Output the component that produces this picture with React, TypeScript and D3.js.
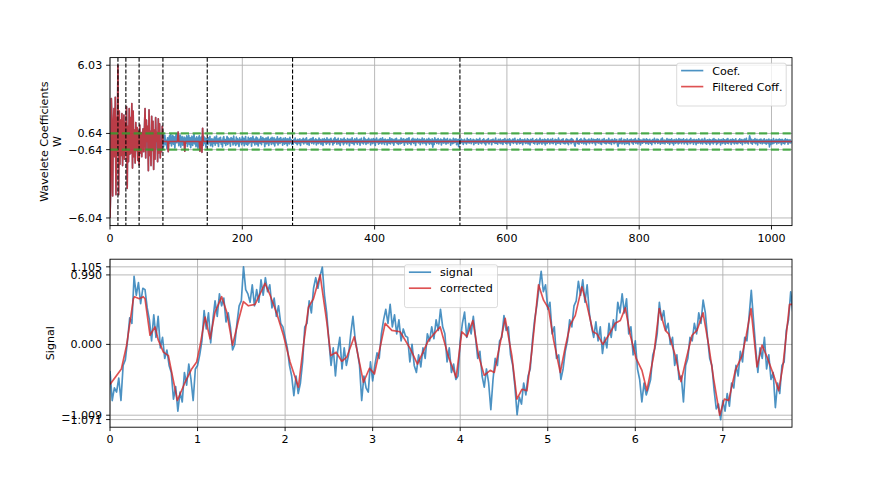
import React from "react";
import * as d3 from "d3";

// ---------------- Wavelet coefficients (top panel) ----------------
const cA7 = [-6.04, -3.8, 3.4, 1.6, -4.3, 0.9, 2.6, -1.2, 3.5, -4.2, 1.9, -0.9];
const cD7 = [6.03, -4.2, 2.4, -1.8, 1.7, -1.1, 2.2, -1.9, 0.8, 2.1, -1.4, 1.5];
const cD6 = [-0.8, 2.75, -3.7, 1.2, -1.6, 2.6, -1.0, 1.9, -0.9, 3.0, -2.1, 2.4, -1.2, 0.9, -1.7, 1.5, -0.7, 1.1, -1.5, 0.8];
const cD5 = [-1.85, 1.3, -0.9, 0.7, -1.2, 0.5, 1.0, -0.8, 0.9, 2.6, -1.3, 1.7, -0.6, 1.2, -2.3, 2.5, -1.1, 0.8, -1.9, 2.0,
  -0.7, 1.6, -2.2, 0.9, -1.4, 1.9, -0.5, 0.7, -1.6, 1.8, -0.9, 1.4, -1.3, 0.6, -0.8, 1.2];
const cD4 = [.35, -.42, .18, .5, -.25, .1, -.55, .3, -.8, .22, .45, -.15, .55, -.35, .12, .48, -.2, .38, -.5, .25,
  .58, -.1, .3, .75, -.32, .15, .52, -.45, .2, .4, -.28, .05, .35, -.77, .28, -.12, .46, -.38, .1, .5,
  -.22, .32, -.48, .18, .42, -.3, .08, .55, -.18, .25, -.4, .38, .12, -.52, .3, .45, -.77, .2, .35, -.85,
  1.05, -.3, .4, -.15, .28, -.45, .22];
const cD3 = [.12, -.25, .3, -.08, .41, -.33, .05, .22, -.4, .18, -.12, .35, -.28, .09, .44, -.15, .2, -.38, .27, -.05,
  .33, -.2, .1, -.42, .25, .38, -.12, .15, -.3, .06, .4, -.22, .28, -.1, .19, -.36, .32, -.02, .24, -.27,
  .43, -.14, .08, -.31, .36, -.18, .21, .02, -.39, .29, -.07, .16, -.25, .37, -.11, .26, -.33, .13, .4, -.2,
  .07, -.29, .34, -.16, .23, -.04, .3, -.37, .14, .41, -.09, .2, -.26, .1, .35, -.21, .27, -.35, .04, .18,
  -.13, .39, -.24, .11, .31, -.06, .22, -.4, .17, .28, -.19, .06, .36, -.3, .15, -.08, .25, -.23, .33, .03,
  -.17, .29, -.34, .12, .2, -.1, .38, -.27, .09, .24, -.15, .32, -.05, .16, -.28, .26, .07, -.21, .3, -.12,
  .19, -.33, .23, .05, -.18, .34, -.09, .14, -.24];
const cD2 = [.08, -.2, .15, -.05, .28, -.12, .1, -.25, .18, .02, -.15, .22, -.3, .09, .14, -.08, .26, -.18, .04, .2,
  -.1, .3, -.22, .06, .12, -.28, .17, -.03, .24, -.14, .08, .32, -.19, .11, -.06, .21, -.26, .13, .01, -.16,
  .27, -.09, .16, -.23, .05, .19, -.31, .1, .23, -.07, .14, -.2, .29, -.11, .03, .18, -.24, .12, .25, -.04,
  .07, -.27, .2, -.13, .31, -.02, .15, -.21, .09, .26, -.17, .05, -.3, .22, .11, -.08, .17, -.25, .28, -.1,
  .13, .02, -.19, .24, -.06, .16, -.33, .19, .07, -.12, .3, -.15, .1, -.24, .21, .04, -.09, .27, -.2, .12,
  -.05, .18, -.28, .14, .25, -.11, .06, -.18, .33, -.07, .2, -.22, .09, .15, -.14, .26, -.03, .11, -.27, .19,
  .05, -.16, .23, -.09, .17, -.3, .12, .28, -.06, .1, -.21, .18, -.12, .24, .03, -.19, .29, -.08, .14, -.23,
  .2, -.04, .11, -.26, .16, .07, -.14, .3, -.18, .09, .22, -.1, .15, -.29, .06, .19, -.07, .25, -.15, .1,
  -.22, .13, .04, -.17, .27, -.12, .18, -.05, .21, -.28, .08, .16, -.09, .23, -.2, .12, .3, -.13, .02, -.24,
  .17, -.06, .26, -.15, .09, .2, -.31, .14, -.02, .24, -.11, .07, .18, -.25, .13, -.08, .28, -.16, .05, .21,
  -.13, .1, -.27, .19, .06, -.1, .25, -.2, .15, .03, -.18, .22, -.45, .12, -.23, .29, -.04, .16, -.14, .08,
  .24, -.19, .11, -.06, .2, -.26, .14, .05, -.12, .27, -.09, .17, -.21, .1, .23, -.15, .08, -.03, .19, -.28,
  .12, .06, -.17, .25, -.1, .18, -.05, .21, -.24, .09, .15, -.4, .2];
const cD1 = [.1, -.15, .2, -.05, .12, -.22, .08, .18, -.1, .03, -.19, .25, -.07, .14, -.12, .06, .21, -.16, .09, -.03,
  .17, -.24, .11, .02, -.13, .19, -.08, .15, -.2, .07, .26, -.11, .04, -.17, .13, -.05, .22, -.14, .1, -.27,
  .05, .16, -.09, .23, -.18, .08, -.02, .14, -.25, .12, .19, -.06, .1, -.15, .28, -.12, .03, -.21, .17, .07,
  -.1, .2, -.16, .06, .13, -.23, .15, -.04, .24, -.13, .09, -.19, .18, .01, -.11, .22, -.28, .12, .05, -.08,
  .19, -.14, .1, .26, -.09, .03, -.2, .16, -.06, .12, -.17, .23, -.12, .08, .15, -.24, .11, -.03, .2, -.15,
  .07, -.1, .21, -.19, .13, .04, -.26, .17, -.07, .1, .24, -.13, .06, -.18, .14, -.02, .19, -.22, .09, .12,
  -.16, .25, -.08, .11, -.21, .16, .02, -.12, .2, -.27, .13, .07, -.15, .22, -.05, .1, -.19, .17, .03, -.11,
  .23, -.17, .08, -.04, .18, -.24, .14, .05, -.13, .27, -.1, .12, -.2, .06, .16, -.09, .21, -.14, .02, -.18,
  .11, .2, -.12, .15, -.25, .09, -.03, .17, -.16, .24, -.07, .13, .04, -.21, -.36, -.1, .08, .26, -.15, .05,
  -.2, .14, -.06, .22, -.13, .1, .03, -.18, .25, -.11, .16, -.24, .07, .12, -.08, .2, -.17, .09, -.02, .23,
  -.14, .06, .18, -.1, .13, -.26, .15, -.05, .21, -.12, .08, .19, -.16, .04, -.22, .17, .1, -.08, .24, -.13,
  .09, -.19, .14, .02, -.11, .26, -.15, .07, .12, -.23, .18, -.04, .1, -.17, .22, -.09, .05, .16, -.2, -.38,
  -.07, .2, -.14, .08, .25, -.18, .03, -.1, .17, -.22, .13, .06, -.16, .21, -.12, .09, -.25, .15, .01, .19,
  -.11, .12, -.2, .16, -.04, .23, -.15, .1, .07, -.19, .24, -.08, .14, -.27, .11, .05, -.13, .2, -.06, .17,
  .03, -.16, .22, -.1, .13, -.21, .08, .18, -.12, .06, -.24, .15, .1, -.07, .25, -.17, .09, -.03, .2, -.14,
  .16, -.08, .04, -.2, .19, -.11, .27, -.15, .07, .12, -.18, .1, -.05, .23, -.13, .02, .17, -.22, .14, -.09,
  .21, -.12, .09, -.26, .15, .05, -.14, .2, -.07, .11, -.19, .24, -.1, .06, .18, -.16, .13, -.04, .22, -.18,
  .08, .14, -.11, .19, -.23, .1, -.02, .16, -.17, .25, -.09, .04, .13, -.2, .17, -.06, .11, -.24, .15, .07,
  -.13, .22, -.08, .12, -.16, .03, .2, -.19, .1, -.05, .26, -.14, .09, -.21, .14, .06, -.11, .18, -.25, .13,
  .02, -.1, .17, -.18, .23, -.07, .11, .15, -.22, .08, -.13, .19, -.04, .12, -.27, .16, .05, -.15, .21, -.09,
  .14, -.2, .06, .18, -.12, .24, -.16, .1, -.03, .15, -.23, .09, .2, -.1, .13, -.18, .07, .22, -.14, .04,
  -.17, .11, -.06, .21, -.13, .08, .16, -.24, .12, -.02, .19, -.15, .1, .25, -.11, .05, -.19, .14, .45, .2,
  -.12, .17, -.21, .07, .13, -.09, .23, -.16, .04, .18, -.26, .11, -.05, .15, -.14, .2, .03, -.18, .12, -.1,
  .22, -.13, .09, -.2, .16, .06, -.15, .19, -.42, .12, -.22, .14, .02, -.17, .24, -.11, .08, -.05, .18, -.19,
  .1, .15, -.12, .2, -.07, .13, -.25, .17, .04, -.14, .11, -.18, .21, -.06, .09, .16, -.21, .12, -.09, .14,
  -.11, .07];
const threshold = 0.64;
const coefYTicks = [6.03, 0.64, -0.64, -6.04];
const coefXTicks = [0, 200, 400, 600, 800, 1000];

// ---------------- Signal (bottom panel) ----------------
const signalDt = 0.025;
const signal = [-0.38, -0.80, -0.62, -0.68, -0.48, -0.80, -0.30, -0.22, 0.05, 0.38,
  0.30, 0.97, 0.70, 0.88, 0.58, 0.80, 0.78, 0.52, 0.35, 0.05,
  0.42, 0.10, 0.40, -0.05, 0.10, -0.20, -0.08, -0.30, -0.40, -0.78,
  -0.60, -0.95, -0.68, -0.82, -0.40, -0.58, -0.28, -0.50, -0.80, -0.35,
  -0.30, -0.15, 0.05, 0.48, 0.22, 0.45, 0.02, 0.35, 0.62, 0.40,
  0.72, 0.55, 0.66, 0.32, 0.45, 0.25, -0.08, 0.00, 0.30, 0.55,
  0.62, 1.105, 0.78, 0.72, 0.60, 0.85, 0.55, 0.78, 0.60, 0.92,
  0.70, 0.95, 0.75, 0.85, 0.52, 0.66, 0.40, 0.55, 0.30, 0.25,
  0.10, -0.05, -0.30, -0.45, -0.73, -0.45, -0.70, -0.55, -0.25, 0.25,
  0.30, 0.62, 0.45, 0.80, 0.95, 0.80, 0.98, 1.10, 0.70, 0.45,
  0.05, -0.30, -0.05, -0.45, -0.10, 0.10, -0.35, -0.05, -0.30, -0.15,
  0.15, 0.40, 0.08, -0.10, -0.30, -0.80, -0.45, -0.62, -0.68, -0.25,
  -0.52, -0.30, -0.12, -0.20, 0.15, 0.35, 0.50, 0.30, 0.57, 0.25,
  0.42, 0.15, 0.35, 0.05, 0.22, 0.12, 0.10, -0.25, 0.00, -0.30,
  -0.40, -0.15, -0.32, -0.05, -0.20, 0.15, 0.05, 0.25, 0.08, 0.35,
  0.20, 0.50, 0.25, 0.15, -0.25, -0.05, -0.40, -0.28, -0.50, -0.45,
  0.05, 0.30, 0.46, 0.10, 0.30, 0.15, 0.40, 0.10, -0.20, -0.10,
  -0.45, -0.61, -0.35, -0.55, -0.93, -0.50, -0.20, -0.30, 0.05, 0.10,
  0.41, 0.20, 0.25, -0.15, -0.30, -0.60, -1.00, -0.75, -0.85, -0.55,
  -0.72, -0.45, -0.35, 0.05, 0.35, 0.55, 0.80, 1.04, 0.75, 0.85,
  0.50, 0.60, 0.15, 0.25, -0.20, -0.15, -0.50, -0.35, -0.10, 0.05,
  0.35, 0.25, 0.55, 0.62, 0.90, 0.70, 0.92, 0.60, 0.85, 0.45,
  0.25, 0.10, 0.32, 0.05, 0.25, -0.13, 0.10, -0.05, 0.30, 0.10,
  0.35, 0.20, 0.60, 0.45, 0.72, 0.45, 0.65, 0.15, 0.25, -0.15,
  0.05, -0.35, -0.50, -0.82, -0.55, -0.72, -0.62, -0.50, -0.15, -0.05,
  0.15, 0.60, 0.35, 0.48, 0.20, 0.30, 0.00, 0.10, -0.30, -0.15,
  -0.50, -0.45, -0.82, -0.30, -0.20, 0.10, 0.05, 0.30, 0.15, 0.45,
  0.30, 0.63, 0.45, 0.10, -0.20, -0.30, -0.65, -0.92, -0.85, -1.071,
  -0.80, -0.95, -0.70, -0.88, -0.55, -0.62, -0.30, -0.45, -0.10, -0.25,
  0.10, 0.05, 0.40, 0.77, 0.35, -0.05, -0.40, -0.05, -0.20, 0.10,
  -0.35, -0.15, -0.50, -0.40, -0.90, -0.55, -0.70, -0.30, -0.25, 0.20,
  0.35, 0.75, 0.45];
const correctedT = [0, 0.13, 0.19, 0.267, 0.28, 0.335, 0.38, 0.40, 0.457, 0.514,
  0.552, 0.61, 0.667, 0.705, 0.77, 0.857, 0.933, 0.99, 1.03, 1.086,
  1.143, 1.2, 1.276, 1.333, 1.40, 1.467, 1.524, 1.581, 1.657, 1.771,
  1.829, 1.905, 1.981, 2.057, 2.152, 2.21, 2.267, 2.324, 2.4, 2.476,
  2.522, 2.583, 2.647, 2.705, 2.79, 2.895, 2.964, 3.021, 3.143, 3.219,
  3.314, 3.429, 3.512, 3.638, 3.771, 3.867, 3.954, 4.019, 4.076, 4.145,
  4.21, 4.274, 4.343, 4.389, 4.514, 4.59, 4.648, 4.705, 4.762, 4.819,
  4.895, 4.952, 5.01, 5.067, 5.143, 5.2, 5.257, 5.314, 5.39, 5.448,
  5.517, 5.562, 5.63, 5.695, 5.771, 5.829, 5.886, 5.943, 6.01, 6.076,
  6.133, 6.21, 6.274, 6.343, 6.381, 6.457, 6.522, 6.583, 6.648, 6.705,
  6.774, 6.838, 6.895, 6.964, 7.017, 7.067, 7.143, 7.219, 7.268, 7.322,
  7.39, 7.448, 7.505, 7.581, 7.638, 7.687, 7.762, 7.8];
const corrected = [-0.57, -0.35, -0.01, 0.65, 0.68, 0.65, 0.68, 0.65, 0.13, 0.25,
  0.06, -0.11, -0.16, -0.40, -0.80, -0.54, -0.35, -0.25, -0.01, 0.39,
  0.08, 0.46, 0.68, 0.46, -0.01, 0.34, 0.61, 0.55, 0.57, 0.87,
  0.70, 0.44, 0.13, -0.25, -0.61, -0.01, 0.53, 0.65, 0.99, 0.32,
  -0.16, -0.11, -0.24, -0.18, 0.11, -0.54, -0.34, -0.42, 0.30, 0.20,
  0.18, -0.06, -0.28, 0.06, 0.25, -0.18, -0.47, 0.18, 0.11, 0.34,
  -0.16, -0.44, -0.37, -0.40, 0.37, -0.16, -0.78, -0.64, -0.66, -0.09,
  0.85, 0.63, 0.51, 0.06, -0.40, -0.04, 0.28, 0.41, 0.82, 0.56,
  0.18, 0.15, 0.00, 0.13, 0.30, 0.34, 0.52, 0.13, -0.20, -0.37,
  -0.66, -0.16, 0.51, 0.20, 0.15, -0.16, -0.53, -0.20, 0.13, 0.20,
  0.45, -0.01, -0.49, -1.009, -0.78, -0.80, -0.37, -0.16, 0.13, 0.51,
  -0.32, -0.01, -0.18, -0.44, -0.66, -0.30, 0.57, 0.57];
const signalYTicks = [1.105, 0.990, 0.000, -1.009, -1.071];
const signalXTicks = [0, 1, 2, 3, 4, 5, 6, 7];
const signalXMax = 7.79;

const FONT = "'DejaVu Sans', sans-serif";
const FS = 11.1;
const BLUE = "#1f77b4";
const RED = "#d62728";
const GREEN = "#2ca02c";
const GRID = "#b0b0b0";
const TICK = 3.9;
const PAD = 3.9;

const L = 110, R = 792;
const T1 = 57.6, B1 = 225.6, T2 = 259.2, B2 = 427.2;

const fmtMinus = (s: string) => s.replace("-", "\u2212");

function Axes(props: {
  x: d3.ScaleLinear<number, number>; y: d3.ScaleLinear<number, number>;
  xticks: number[]; yticks: number[]; ylabels: string[]; xlabels: string[];
  top: number; bottom: number;
}) {
  const { x, y, xticks, yticks, ylabels, xlabels, top, bottom } = props;
  return (
    <g>
      <rect x={L} y={top} width={R - L} height={bottom - top} fill="none" stroke="#000" strokeWidth={0.89} />
      {xticks.map((t, i) => (
        <g key={"xt" + i}>
          <line x1={x(t)} x2={x(t)} y1={bottom} y2={bottom + TICK} stroke="#000" strokeWidth={0.89} />
          <text x={x(t)} y={bottom + TICK + PAD} dy="0.76em" textAnchor="middle" fontFamily={FONT} fontSize={FS}>{xlabels[i]}</text>
        </g>
      ))}
      {yticks.map((t, i) => (
        <g key={"yt" + i}>
          <line x1={L - TICK} x2={L} y1={y(t)} y2={y(t)} stroke="#000" strokeWidth={0.89} />
          <text x={L - TICK - PAD} y={y(t)} dy="0.36em" textAnchor="end" fontFamily={FONT} fontSize={FS}>{ylabels[i]}</text>
        </g>
      ))}
    </g>
  );
}

function Grid(props: { x: d3.ScaleLinear<number, number>; y: d3.ScaleLinear<number, number>; xticks: number[]; yticks: number[]; top: number; bottom: number }) {
  const { x, y, xticks, yticks, top, bottom } = props;
  return (
    <g>
      {xticks.map((t, i) => <line key={"gx" + i} x1={x(t)} x2={x(t)} y1={top} y2={bottom} stroke={GRID} strokeWidth={0.89} />)}
      {yticks.map((t, i) => <line key={"gy" + i} x1={L} x2={R} y1={y(t)} y2={y(t)} stroke={GRID} strokeWidth={0.89} />)}
    </g>
  );
}

function Legend(props: { x: number; y: number; w: number; items: { label: string; color: string }[] }) {
  const { x, y, w, items } = props;
  const rowH = 16;
  const h = 8.8 + items.length * rowH + 2;
  return (
    <g>
      <rect x={x} y={y} width={w} height={h} rx={2.2} fill="#fff" fillOpacity={0.8} stroke="#cccccc" strokeOpacity={0.8} strokeWidth={0.89} />
      {items.map((it, i) => {
        const cy = y + 7.4 + i * rowH;
        return (
          <g key={i}>
            <line x1={x + 4.4} x2={x + 26.6} y1={cy} y2={cy} stroke={it.color} strokeOpacity={0.8} strokeWidth={1.67} />
            <text x={x + 35.5} y={cy} dy="0.36em" fontFamily={FONT} fontSize={FS}>{it.label}</text>
          </g>
        );
      })}
    </g>
  );
}

export default function App() {
  const coef = [...cA7, ...cD7, ...cD6, ...cD5, ...cD4, ...cD3, ...cD2, ...cD1];
  const filtered = coef.map((c) => (Math.abs(c) >= threshold ? c : 0));
  const bounds: number[] = [];
  let acc = 0;
  for (const arr of [cA7, cD7, cD6, cD5, cD4, cD3, cD2]) { acc += arr.length; bounds.push(acc); }

  const [cmin, cmax] = d3.extent(coef) as [number, number];
  const cpad = (cmax - cmin) * 0.05;
  const x1 = d3.scaleLinear().domain([0, coef.length]).range([L, R]);
  const y1 = d3.scaleLinear().domain([cmin - cpad, cmax + cpad]).range([B1, T1]);
  const coefLine = d3.line<number>().x((_, i) => x1(i)).y((d) => y1(d));

  const [smin, smax] = d3.extent(signal) as [number, number];
  const spad = (smax - smin) * 0.05;
  const x2 = d3.scaleLinear().domain([0, signalXMax]).range([L, R]);
  const y2 = d3.scaleLinear().domain([smin - spad, smax + spad]).range([B2, T2]);
  const sigLine = d3.line<number>().x((_, i) => x2(i * signalDt)).y((d) => y2(d));
  const corLine = d3.line<number>().x((_, i) => x2(correctedT[i])).y((d) => y2(d));

  return (
    <svg width={880} height={480} style={{ position: "absolute", left: 0, top: 0, background: "#fff" }}>
      <defs>
        <clipPath id="clipTop"><rect x={L} y={T1} width={R - L} height={B1 - T1} /></clipPath>
        <clipPath id="clipBot"><rect x={L} y={T2} width={R - L} height={B2 - T2} /></clipPath>
      </defs>
      <rect x={0} y={0} width={880} height={480} fill="#fff" />

      {/* Top panel */}
      <Grid x={x1} y={y1} xticks={coefXTicks} yticks={coefYTicks} top={T1} bottom={B1} />
      <g clipPath="url(#clipTop)">
        <path d={coefLine(coef) || ""} fill="none" stroke={BLUE} strokeOpacity={0.8} strokeWidth={1.67} strokeLinejoin="round" />
        <path d={coefLine(filtered) || ""} fill="none" stroke={RED} strokeOpacity={0.8} strokeWidth={1.67} strokeLinejoin="round" />
        {bounds.map((b, i) => (
          <line key={"vb" + i} x1={x1(b)} x2={x1(b)} y1={T1} y2={B1} stroke="#000" strokeWidth={1.1} strokeDasharray="4.1,1.8" />
        ))}
        {[threshold, -threshold].map((t, i) => (
          <line key={"th" + i} x1={L} x2={R} y1={y1(t)} y2={y1(t)} stroke={GREEN} strokeOpacity={0.8} strokeWidth={2.2} strokeDasharray="8.2,3.6" />
        ))}
      </g>
      <Axes x={x1} y={y1} xticks={coefXTicks} yticks={coefYTicks} top={T1} bottom={B1}
        xlabels={coefXTicks.map((d) => String(d))}
        ylabels={coefYTicks.map((d) => fmtMinus(d.toFixed(2)))} />
      <text transform={`translate(47.7,${(T1 + B1) / 2}) rotate(-90)`} textAnchor="middle" fontFamily={FONT} fontSize={FS}>Wavelete Coefficients</text>
      <text transform={`translate(61,${(T1 + B1) / 2}) rotate(-90)`} textAnchor="middle" fontFamily={FONT} fontSize={FS}>W</text>
      <Legend x={676.7} y={63.2} w={109.5} items={[{ label: "Coef.", color: BLUE }, { label: "Filtered Coff.", color: RED }]} />

      {/* Bottom panel */}
      <Grid x={x2} y={y2} xticks={signalXTicks} yticks={signalYTicks} top={T2} bottom={B2} />
      <g clipPath="url(#clipBot)">
        <path d={sigLine(signal) || ""} fill="none" stroke={BLUE} strokeOpacity={0.8} strokeWidth={1.67} strokeLinejoin="round" />
        <path d={corLine(corrected) || ""} fill="none" stroke={RED} strokeOpacity={0.8} strokeWidth={1.67} strokeLinejoin="round" />
      </g>
      <Axes x={x2} y={y2} xticks={signalXTicks} yticks={signalYTicks} top={T2} bottom={B2}
        xlabels={signalXTicks.map((d) => String(d))}
        ylabels={signalYTicks.map((d) => fmtMinus(d.toFixed(3)))} />
      <text transform={`translate(54.2,${(T2 + B2) / 2}) rotate(-90)`} textAnchor="middle" fontFamily={FONT} fontSize={FS}>Signal</text>
      <Legend x={404.5} y={264.8} w={93} items={[{ label: "signal", color: BLUE }, { label: "corrected", color: RED }]} />
    </svg>
  );
}
